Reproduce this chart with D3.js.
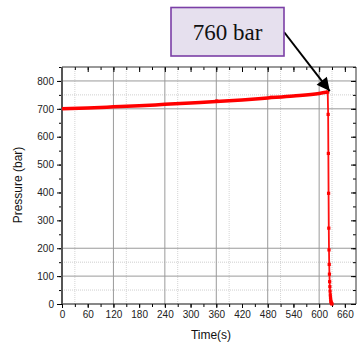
<!DOCTYPE html>
<html>
<head>
<meta charset="utf-8">
<script src="https://cdn.jsdelivr.net/npm/d3@7"></script>
<style>
  body { margin: 0; background: #fff; }
  svg { display: block; }
  text { font-family: "Liberation Sans", Arial, sans-serif; }
</style>
</head>
<body>
<svg id="drawspace" width="359" height="342"></svg>
<script>
// pressure build-up (seconds, bar)
let riseTime  = [0, 60, 120, 180, 240, 300, 360, 420, 480, 540, 600, 620];
let riseValue = [700, 703, 707, 711, 716, 721, 726, 732, 739, 746, 755, 760];
// sudden release after peak
let dropTime  = [620, 621, 621.5, 622, 622.5, 623, 623.5, 624, 624.5, 625, 625.5, 626, 626.5, 627, 627.5, 628, 629, 630];
let dropValue = [760, 680, 540, 397, 272, 194, 142, 107, 80, 62, 46, 33, 23, 15, 9, 5, 2, 0];
let bumpTime  = [361, 488];
let bumpValue = [728, 741];

let xTicks = [0, 60, 120, 180, 240, 300, 360, 420, 480, 540, 600, 660];
let yTicks = [0, 100, 200, 300, 400, 500, 600, 700, 800];
let xGridMajor = [120, 240, 360, 480, 600];
let xGridMinor = [30, 150, 270, 390, 510, 630];
let yGridMajor = [100, 200, 700, 800];
let yGridMinor = [50, 150, 750];
let peakLabel = "760 bar";

let ds = d3.select("#drawspace");
let pl = 62, pr = 356, pt = 67, pb = 304;

let xscale = d3.scaleLinear().domain([0, 686]).range([pl, pr]);
let yscale = d3.scaleLinear().domain([0, 850]).range([pb, pt]);

// grid
let grid = ds.append("g");
grid.selectAll(".gxm").data(xGridMinor).enter().append("line")
  .attr("x1", d => xscale(d)).attr("x2", d => xscale(d))
  .attr("y1", pt).attr("y2", pb)
  .attr("stroke", "#d4d4d4").attr("stroke-dasharray", "1,1");
grid.selectAll(".gym").data(yGridMinor).enter().append("line")
  .attr("y1", d => yscale(d)).attr("y2", d => yscale(d))
  .attr("x1", pl).attr("x2", pr)
  .attr("stroke", "#cfcfcf").attr("stroke-dasharray", "1,1");
grid.selectAll(".gx").data(xGridMajor).enter().append("line")
  .attr("x1", d => xscale(d)).attr("x2", d => xscale(d))
  .attr("y1", pt).attr("y2", pb)
  .attr("stroke", "#9a9a9a");
grid.selectAll(".gy").data(yGridMajor).enter().append("line")
  .attr("y1", d => yscale(d)).attr("y2", d => yscale(d))
  .attr("x1", pl).attr("x2", pr)
  .attr("stroke", "#9a9a9a");

// axes
let xMinor = d3.range(0, 687, 30);
let yMinor = d3.range(0, 851, 50);

ds.append("g").attr("transform", "translate(0," + pb + ")")
  .call(d3.axisBottom(xscale).tickValues(xMinor).tickSize(3).tickFormat(""))
  .call(g => g.select(".domain").remove());
ds.append("g").attr("transform", "translate(0," + pb + ")")
  .call(d3.axisBottom(xscale).tickValues(xTicks).tickSize(4).tickPadding(3))
  .call(g => g.select(".domain").remove())
  .call(g => g.selectAll("text").attr("font-size", 10).attr("fill", "#222"));

ds.append("g").attr("transform", "translate(" + pl + ",0)")
  .call(d3.axisLeft(yscale).tickValues(yMinor).tickSize(3).tickFormat(""))
  .call(g => g.select(".domain").remove());
ds.append("g").attr("transform", "translate(" + pl + ",0)")
  .call(d3.axisLeft(yscale).tickValues(yTicks).tickSize(5).tickPadding(3))
  .call(g => g.select(".domain").remove())
  .call(g => g.selectAll("text").attr("font-size", 10).attr("fill", "#222"));

// top and right mirror ticks, pointing inward
ds.append("g").attr("transform", "translate(0," + pt + ")")
  .call(d3.axisBottom(xscale).tickValues(xMinor).tickSize(3).tickFormat(""))
  .call(g => g.select(".domain").remove());
ds.append("g").attr("transform", "translate(0," + pt + ")")
  .call(d3.axisBottom(xscale).tickValues(xTicks).tickSize(5).tickFormat(""))
  .call(g => g.select(".domain").remove());
ds.append("g").attr("transform", "translate(" + pr + ",0)")
  .call(d3.axisLeft(yscale).tickValues(yMinor).tickSize(3).tickFormat(""))
  .call(g => g.select(".domain").remove());
ds.append("g").attr("transform", "translate(" + pr + ",0)")
  .call(d3.axisLeft(yscale).tickValues(yTicks).tickSize(5).tickFormat(""))
  .call(g => g.select(".domain").remove());

ds.append("line").attr("x1", pl).attr("x2", pr).attr("y1", pt).attr("y2", pt)
  .attr("stroke", "#333");
ds.append("line").attr("x1", pr).attr("x2", pr).attr("y1", pt).attr("y2", pb)
  .attr("stroke", "#333");
ds.append("line").attr("x1", pl).attr("x2", pr).attr("y1", pb).attr("y2", pb)
  .attr("stroke", "#111").attr("stroke-width", 1.2);
ds.append("line").attr("x1", pl).attr("x2", pl).attr("y1", pt).attr("y2", pb)
  .attr("stroke", "#555").attr("stroke-width", 2);

// data
let rise = riseTime.map((t, i) => ({t: t, v: riseValue[i]}));
let drop = dropTime.map((t, i) => ({t: t, v: dropValue[i]}));
let bumps = bumpTime.map((t, i) => ({t: t, v: bumpValue[i]}));

let myLine = d3.line().x(d => xscale(d.t)).y(d => yscale(d.v)).curve(d3.curveMonotoneX);
ds.append("path").datum(rise).attr("d", myLine)
  .attr("fill", "none").attr("stroke", "#ff0000").attr("stroke-width", 3.5);

let dropLine = d3.line().x(d => xscale(d.t)).y(d => yscale(d.v));
ds.append("path").datum(drop).attr("d", dropLine)
  .attr("fill", "none").attr("stroke", "#ff1010").attr("stroke-width", 1.8);

ds.append("g").selectAll("rect").data(drop.concat(bumps)).enter().append("rect")
  .attr("x", d => xscale(d.t) - 1.6).attr("y", d => yscale(d.v) - 1.6)
  .attr("width", 3.2).attr("height", 3.2).attr("fill", "#ff0000");

// axis titles
ds.append("text").attr("x", 211).attr("y", 339).attr("text-anchor", "middle")
  .attr("font-size", 12).attr("fill", "#111").text("Time(s)");
ds.append("text").attr("transform", "translate(22,185) rotate(-90)").attr("text-anchor", "middle")
  .attr("font-size", 12).attr("fill", "#111").text("Pressure (bar)");

// annotation
let peak = rise[rise.length - 1];
ds.append("defs").append("marker").attr("id", "head")
  .attr("viewBox", "0 0 10 10").attr("refX", 10).attr("refY", 5)
  .attr("markerWidth", 7.5).attr("markerHeight", 6.5).attr("markerUnits", "strokeWidth")
  .attr("orient", "auto")
  .append("path").attr("d", "M0,0 L10,5 L0,10 Z").attr("fill", "#000");
ds.append("line").attr("x1", 284).attr("y1", 32)
  .attr("x2", xscale(peak.t) + 2).attr("y2", yscale(peak.v) - 1)
  .attr("stroke", "#000").attr("stroke-width", 2).attr("marker-end", "url(#head)");

ds.append("rect").attr("x", 171).attr("y", 7.5).attr("width", 113).attr("height", 48.5)
  .attr("fill", "#e6e0ee").attr("stroke", "#7b3fa6").attr("stroke-width", 1.6);
ds.append("text").attr("x", 227.5).attr("y", 40).attr("text-anchor", "middle")
  .style("font-family", "'Liberation Serif', 'Times New Roman', serif")
  .attr("font-size", 23).attr("fill", "#111").text(peakLabel);
</script>
</body>
</html>
